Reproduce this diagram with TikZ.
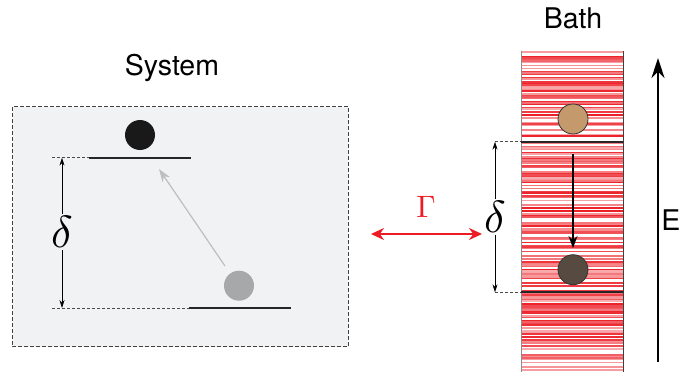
\documentclass[tikz,border=0pt]{standalone}
\usepackage{fontspec}
\setsansfont{TeX Gyre Heros}
\usetikzlibrary{arrows.meta}
\definecolor{boxfill}{HTML}{F1F2F4}
\definecolor{bathred}{HTML}{EC1C24}
\definecolor{graydot}{HTML}{A7A8AA}
\definecolor{browndot}{HTML}{C49A6C}
\definecolor{darkdot}{HTML}{574A40}
\definecolor{graylink}{HTML}{BDBEC0}
\begin{document}
\begin{tikzpicture}[x=1pt,y=-1pt,
  lbl/.style={font=\sffamily\fontsize{28.5}{28.5}\selectfont, inner sep=0},
  level/.style={line width=2.2pt, black!85},
  guide/.style={densely dashed, line width=0.5pt, black!70},
  dot/.style={circle, minimum size=30pt, inner sep=0},
  dimarrow/.style={line width=0.6pt, -{Stealth[length=8pt,width=5pt]}},
  bigmath/.style={inner sep=2pt},
]
\useasboundingbox (0,0) rectangle (681,372);
% ---------- System ----------
\node[lbl] (systxt) at (172,68) {System};
\draw[dash pattern=on 4pt off 2pt, line width=0.7pt, black!75, fill=boxfill] (12.5,106.5) rectangle (348,346.5);
\coordinate (uL) at (89,157.7); \coordinate (uR) at (191,157.7);
\coordinate (lL) at (189,308); \coordinate (lR) at (291,308);
\draw[level] (uL) -- (uR);
\draw[level] (lL) -- (lR);
\node[dot, fill=black!90] (sdot1) at (140,135) {};
\node[dot, fill=graydot] (sdot2) at (239,285.7) {};
\coordinate (gU) at (52,157.7); \coordinate (gL) at (52,308);
\draw[guide] (gU) -- (uL);
\draw[guide] (gL) -- (lL);
\node[bigmath] (sdelta) at (62,232) {\scalebox{4.5}{$\delta$}};
\coordinate (saT) at (62,157.7); \coordinate (saB) at (62,308);
\draw[dimarrow] (sdelta.north) -- (saT);
\draw[dimarrow] (sdelta.south) -- (saB);
\coordinate (gaS) at (225,266); \coordinate (gaE) at (159,169);
\draw[graylink, line width=1.2pt, -{Stealth[length=13pt,width=9pt]}] (gaS) -- (gaE);
% ---------- Bath ----------
\node[lbl] (bathtxt) at (573,18) {Bath};
\pgfmathsetseed{7}
\foreach \k in {0,...,212}{
  \pgfmathsetmacro{\yy}{52+\k*1.5}
  \pgfmathsetmacro{\rr}{rnd}
  \pgfmathsetmacro{\cc}{int(35+65*rnd)}
  \ifdim\rr pt>0.3pt
    \draw[bathred!\cc!white, line width=1.2pt] (521,\yy) -- (623,\yy);
  \fi
}
\draw[black!45, line width=1pt] (521,51) -- (521,372);
\draw[black!75, line width=1pt] (623,51) -- (623,372);
\coordinate (bU1) at (521,141.7); \coordinate (bU2) at (623,141.7);
\coordinate (bL1) at (521,292.3); \coordinate (bL2) at (623,292.3);
\draw[level] (bU1) -- (bU2);
\draw[level] (bL1) -- (bL2);
\node[dot, fill=browndot, draw=black!80, line width=0.8pt] (bdot1) at (573,119) {};
\node[dot, fill=darkdot, draw=black!80, line width=0.8pt] (bdot2) at (573,269.7) {};
\coordinate (baS) at (573,154); \coordinate (baE) at (573,248);
\draw[line width=1.4pt, -{Stealth[length=12pt,width=9pt]}] (baS) -- (baE);
\coordinate (bgU) at (495,141.7); \coordinate (bgL) at (495,292.3);
\draw[guide] (bgU) -- (bU1);
\draw[guide] (bgL) -- (bL1);
\node[bigmath] (bdelta) at (495,217) {\scalebox{4.5}{$\delta$}};
\draw[dimarrow] (bdelta.north) -- (bgU);
\draw[dimarrow] (bdelta.south) -- (bgL);
% ---------- Coupling ----------
\coordinate (rL) at (371,234); \coordinate (rR) at (482,234);
\draw[bathred, line width=2pt, {Stealth[length=13pt,width=12pt]}-{Stealth[length=13pt,width=12pt]}] (rL) -- (rR);
\node[text=bathred, inner sep=0] (gam) at (426,207) {\scalebox{3.1}{$\Gamma$}};
% ---------- Energy axis ----------
\coordinate (eB) at (658,362); \coordinate (eT) at (658,58);
\draw[line width=2pt, -{Stealth[length=20pt,width=13pt]}] (eB) -- (eT);
\node[lbl, anchor=east] (etxt) at (680.5,220) {E};
\end{tikzpicture}
\end{document}
